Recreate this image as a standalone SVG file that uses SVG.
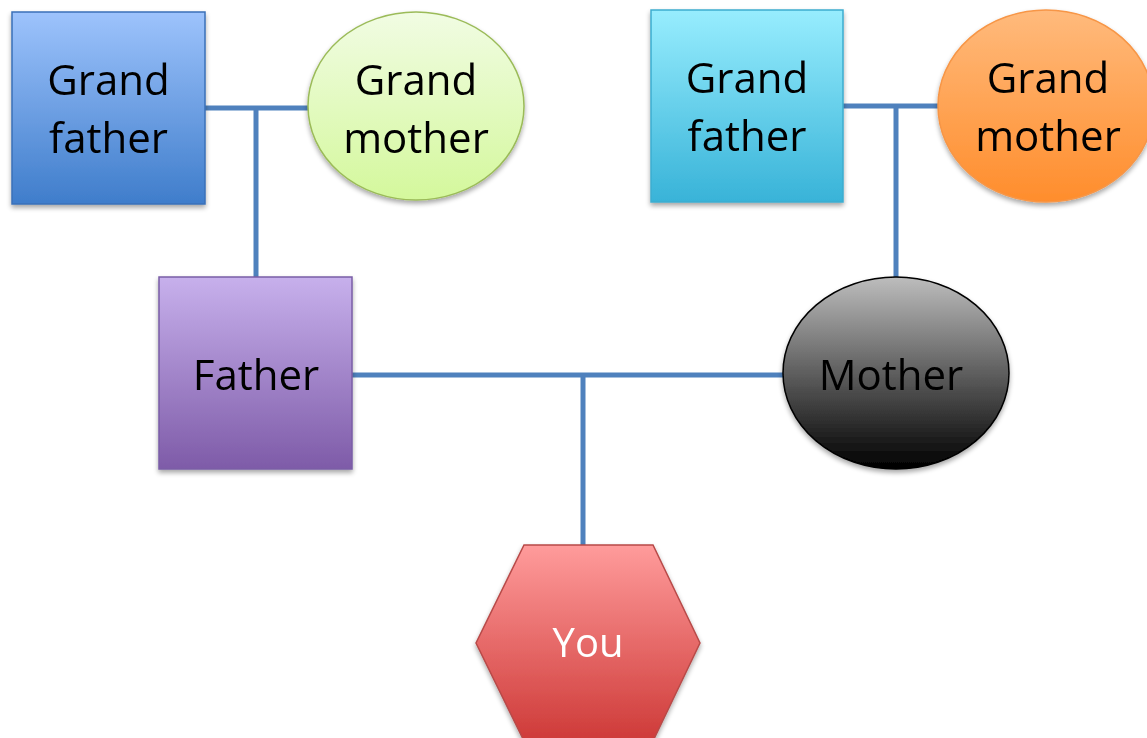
<svg xmlns="http://www.w3.org/2000/svg" width="1147" height="738" viewBox="0 0 1147 738">
<defs>
<linearGradient id="gBlue" x1="0" y1="0" x2="0" y2="1"><stop offset="0" stop-color="#9DC3FC"/><stop offset="1" stop-color="#3F7DCB"/></linearGradient>
<linearGradient id="gGreen" x1="0" y1="0" x2="0" y2="1"><stop offset="0" stop-color="#F1FCE3"/><stop offset="1" stop-color="#D4F89C"/></linearGradient>
<linearGradient id="gCyan" x1="0" y1="0" x2="0" y2="1"><stop offset="0" stop-color="#97EDFE"/><stop offset="1" stop-color="#38B3D8"/></linearGradient>
<linearGradient id="gOrange" x1="0" y1="0" x2="0" y2="1"><stop offset="0" stop-color="#FFBA7C"/><stop offset="1" stop-color="#FF8D2C"/></linearGradient>
<linearGradient id="gPurple" x1="0" y1="0" x2="0" y2="1"><stop offset="0" stop-color="#C7B0EC"/><stop offset="1" stop-color="#7E5BA8"/></linearGradient>
<linearGradient id="gGray" x1="0" y1="0" x2="0" y2="1"><stop offset="0" stop-color="#BDBDBD"/><stop offset="1" stop-color="#000000"/></linearGradient>
<linearGradient id="gRed" x1="0" y1="0" x2="0" y2="1"><stop offset="0" stop-color="#FF9B9B"/><stop offset="1" stop-color="#CE3A38"/></linearGradient>
<filter id="sh" x="-10%" y="-10%" width="130%" height="130%">
<feGaussianBlur in="SourceAlpha" stdDeviation="2.5"/>
<feOffset dx="0" dy="3" result="b"/>
<feComponentTransfer><feFuncA type="linear" slope="0.35"/></feComponentTransfer>
<feMerge><feMergeNode/><feMergeNode in="SourceGraphic"/></feMerge>
</filter>
</defs>
<style>
.lbl{font-family:"Open Sans","Noto Sans","Liberation Sans",sans-serif;font-size:42px;text-anchor:middle;fill:#000}
.you{fill:#fff;font-size:40px}
.con{stroke:#4F81BD;stroke-width:5;fill:none}
</style>
<g id="connectors">
<path class="con" d="M205 108 H308 M256 108 V277"/>
<path class="con" d="M843 106 H939 M896 106 V278"/>
<path class="con" d="M352 375 H783 M583 375 V545"/>
</g>
<g id="grandfather-left" filter="url(#sh)">
<rect x="12" y="12" width="193" height="192" fill="url(#gBlue)" stroke="#3A70B8" stroke-width="1.5"/>
<text class="lbl" x="108.5" y="95">Grand</text>
<text class="lbl" x="108.5" y="153">father</text>
</g>
<g id="grandmother-left" filter="url(#sh)">
<ellipse cx="416" cy="106" rx="108" ry="94" fill="url(#gGreen)" stroke="#9BBB59" stroke-width="1.5"/>
<text class="lbl" x="416" y="95">Grand</text>
<text class="lbl" x="416" y="153">mother</text>
</g>
<g id="grandfather-right" filter="url(#sh)">
<rect x="651" y="10" width="192" height="192" fill="url(#gCyan)" stroke="#3DADCF" stroke-width="1.5"/>
<text class="lbl" x="747" y="93">Grand</text>
<text class="lbl" x="747" y="151">father</text>
</g>
<g id="grandmother-right" filter="url(#sh)">
<ellipse cx="1046" cy="106" rx="108" ry="96" fill="url(#gOrange)" stroke="#F79646" stroke-width="1.5"/>
<text class="lbl" x="1048" y="93">Grand</text>
<text class="lbl" x="1048" y="151">mother</text>
</g>
<g id="father" filter="url(#sh)">
<rect x="159" y="277" width="193" height="192" fill="url(#gPurple)" stroke="#7A5EA6" stroke-width="1.5"/>
<text class="lbl" x="256" y="390">Father</text>
</g>
<g id="mother" filter="url(#sh)">
<ellipse cx="896" cy="373" rx="113" ry="96" fill="url(#gGray)" stroke="#000" stroke-width="1.5"/>
<text class="lbl" x="891" y="390">Mother</text>
</g>
<g id="you" filter="url(#sh)">
<polygon points="524,545 653,545 700,643 653,741 524,741 476,643" fill="url(#gRed)" stroke="#B84A48" stroke-width="1.5"/>
<text class="lbl you" x="588" y="657">You</text>
</g>
</svg>
